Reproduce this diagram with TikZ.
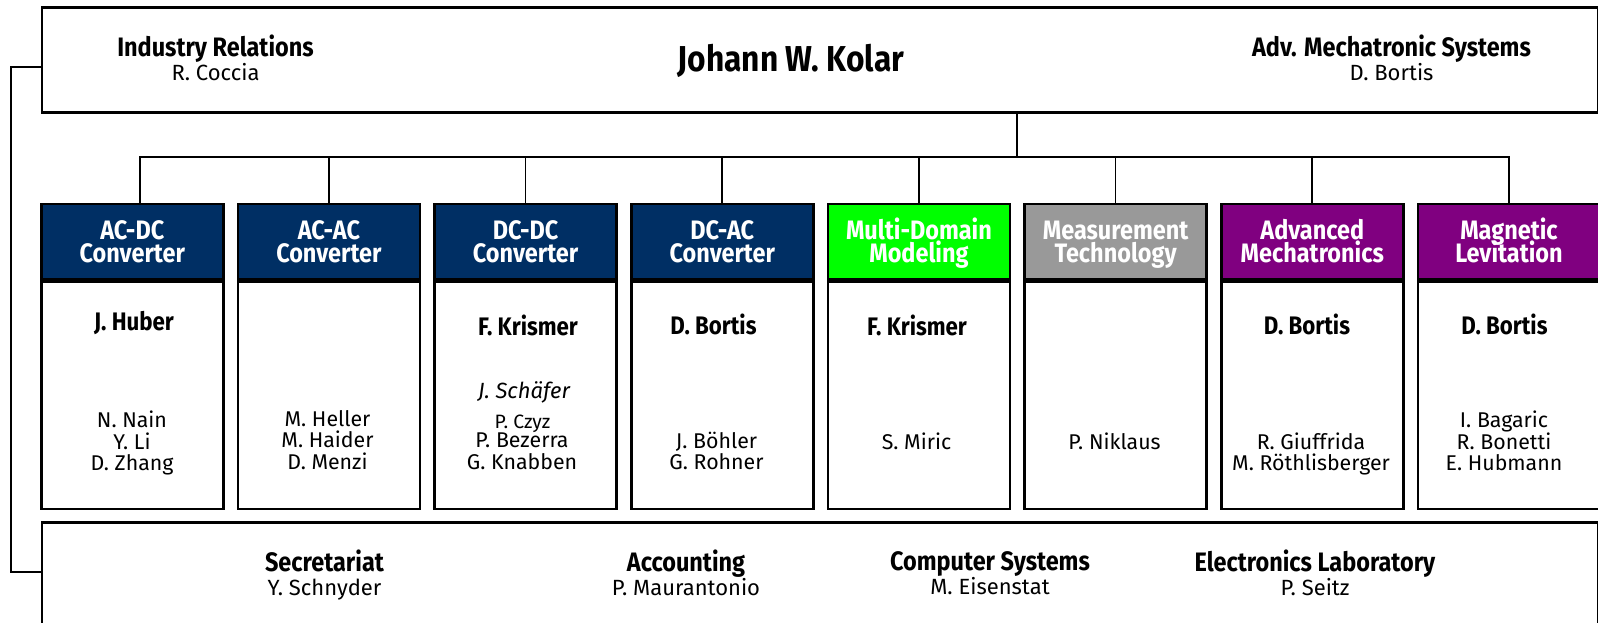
\documentclass[tikz,border=0pt]{standalone}
\usepackage{fontspec}
\setmainfont{Fira Sans}[BoldFeatures={FakeStretch=0.88}]
\usepackage{tikz}
\usetikzlibrary{positioning}
\definecolor{navy}{RGB}{0,47,100}
\definecolor{mdgreen}{RGB}{0,255,0}
\definecolor{measgray}{RGB}{153,153,153}
\definecolor{mechpurple}{RGB}{128,0,128}
\lineskiplimit=-20pt
\newcommand{\pxu}{0.75pt}
\newcommand{\tstrut}{\rule{0pt}{0.8em}}
\newcommand{\bstrut}{\rule[-0.3em]{0pt}{0.3em}}
\tikzset{
  frame/.style={draw, line width=1.9pt, inner sep=0pt},
  link/.style={line width=1.3pt},
  txt/.style={inner sep=0pt, align=center, execute at begin node=\tstrut, execute at end node=\bstrut},
  head/.style={frame, fill=#1, text=white, align=center, anchor=north west,
    minimum width=182*\pxu, minimum height=75.6*\pxu,
    font=\bfseries\fontsize{20}{17}\selectfont,
    text height=30.8pt, text depth=0pt},
  body/.style={frame, fill=white, anchor=north, minimum width=182*\pxu, minimum height=226.7*\pxu},
  lead/.style={txt, font=\bfseries\fontsize{19}{19}\selectfont},
  staff/.style={txt, font=\fontsize{16}{16.3}\selectfont},
  grp/.style={txt, font=\fontsize{16.5}{18}\selectfont},
}
\begin{document}
\begin{tikzpicture}[x=0.75pt, y=-0.75pt]
\useasboundingbox (0,0) rectangle (1598,623);
\node[frame, anchor=north west, minimum width=1556*\pxu, minimum height=105*\pxu] (topbox) at (40.5,6) {};
\node[frame, anchor=north west, minimum width=1556*\pxu, minimum height=150*\pxu] (botbox) at (40.5,521) {};
\node[grp] (indrel) at (215.5,61) {{\bfseries\fontsize{20}{18}\selectfont Industry Relations}\\R. Coccia};
\node[txt, font=\bfseries\fontsize{27}{27}\selectfont] (kolar) at (791,63) {Johann W. Kolar};
\node[grp] (advmech) at (1391.5,61) {{\bfseries\fontsize{20}{18}\selectfont Adv. Mechatronic Systems}\\D. Bortis};
\foreach \i/\lab/\col [evaluate=\i as \xl using 40+196.67*(\i-1)] in
  {1/{AC-DC\\Converter}/navy, 2/{AC-AC\\Converter}/navy, 3/{DC-DC\\Converter}/navy,
   4/{DC-AC\\Converter}/navy, 5/{Multi-Domain\\Modeling}/mdgreen,
   6/{Measurement\\Technology}/measgray, 7/{Advanced\\Mechatronics}/mechpurple,
   8/{Magnetic\\Levitation}/mechpurple} {
  \node[head=\col] (hd\i) at (\xl,202.7) {\lab};
  \node[body] (bd\i) at (hd\i.south) {};
}
\coordinate (bus) at (1017,157);
\draw[link] (topbox.south -| bus) -- (bus);
\draw[link] ([xshift=8*\pxu]hd1.north) |- (bus) -| (hd8.north);
\foreach \i in {2,...,7} {
\draw[link] (hd\i.north) -- (hd\i.north |- bus);
}
\coordinate (rail) at (11,300);
\draw[link] (topbox.west |- 0,67) -| (rail) |- (botbox.west |- 0,572);
\node[lead] (huber) at (134,324) {J. Huber};
\node[lead] (krismer1) at (528,329) {F. Krismer};
\node[lead] (bortis1) at (713.5,328) {D. Bortis};
\node[lead] (krismer2) at (917,329) {F. Krismer};
\node[lead] (bortis2) at (1307,328) {D. Bortis};
\node[lead] (bortis3) at (1504.5,328) {D. Bortis};
\node[staff] (staff1) at (132,444) {N. Nain\\Y. Li\\D. Zhang};
\node[staff] (staff2) at (327.5,443) {M. Heller\\M. Haider\\D. Menzi};
\node[staff, font=\itshape\fontsize{16.5}{16.5}\selectfont] (schaefer) at (524,393) {J. Schäfer};
\node[staff, font=\fontsize{14.5}{14.5}\selectfont] (czyz) at (522.5,423.5) {P. Czyz};
\node[staff] (staff3) at (522,454) {P. Bezerra\\G. Knabben};
\node[staff] (staff4) at (716.5,454) {J. Böhler\\G. Rohner};
\node[staff] (staff5) at (916.5,444) {S. Miric};
\node[staff] (staff6) at (1114.5,444) {P. Niklaus};
\node[staff] (staff7) at (1311,455) {R. Giuffrida\\M. Röthlisberger};
\node[staff] (staff8) at (1504,444) {I. Bagaric\\R. Bonetti\\E. Hubmann};
\node[grp] (secr) at (324.5,576) {{\bfseries\fontsize{20}{18}\selectfont Secretariat}\\Y. Schnyder};
\node[grp] (acct) at (686,576) {{\bfseries\fontsize{20}{18}\selectfont Accounting}\\P. Maurantonio};
\node[grp] (compsys) at (990,576) {{\bfseries\fontsize{20}{18}\selectfont Computer Systems}\\M. Eisenstat};
\node[grp] (elab) at (1315,576) {{\bfseries\fontsize{20}{18}\selectfont Electronics Laboratory}\\P. Seitz};
\end{tikzpicture}
\end{document}
